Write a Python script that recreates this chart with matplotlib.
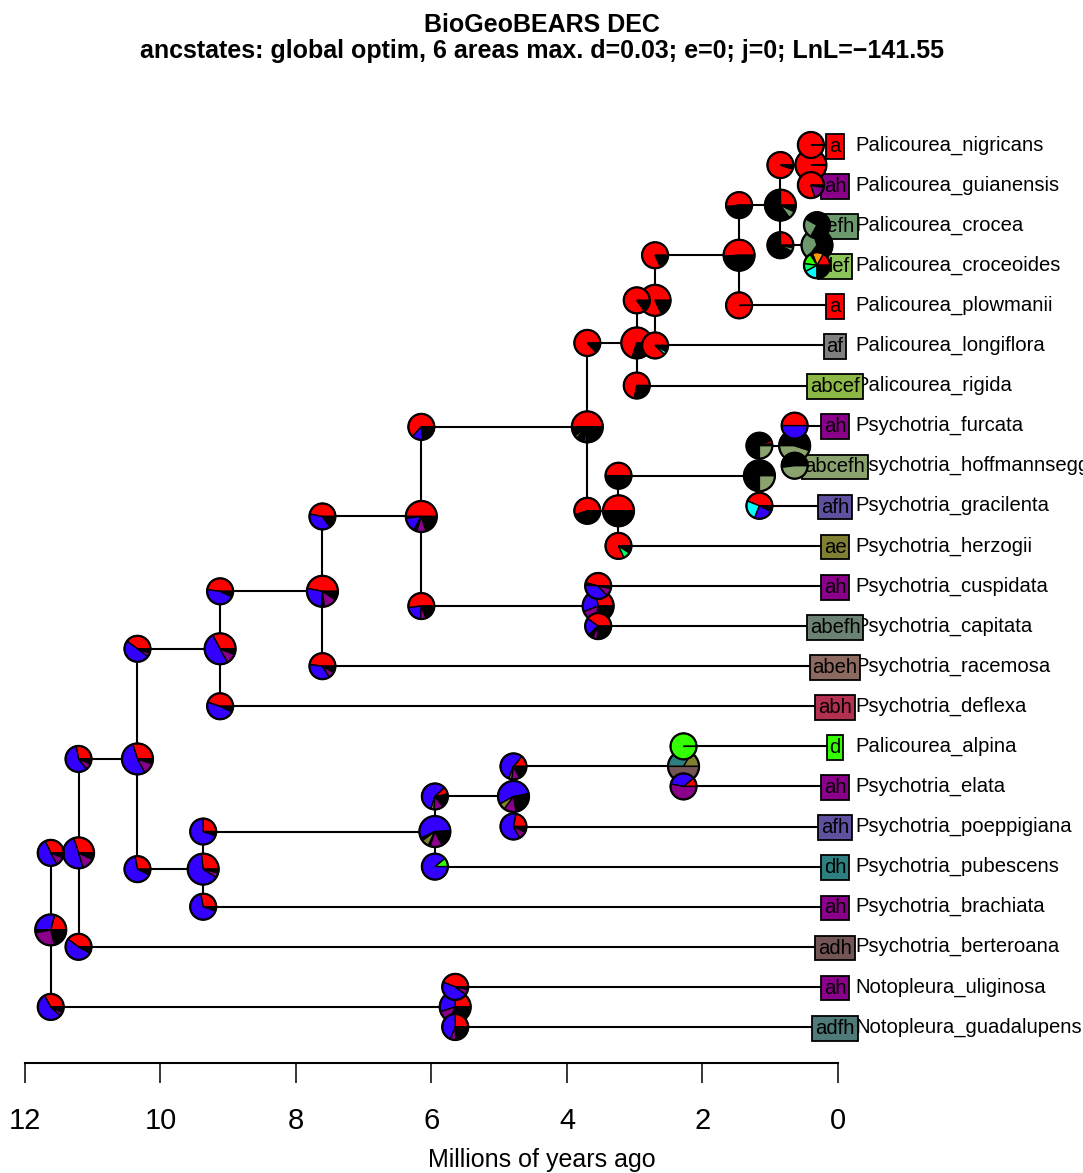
import matplotlib
matplotlib.use('Agg')
import matplotlib.pyplot as plt
from matplotlib.patches import Polygon, Circle
from matplotlib.transforms import Affine2D, ScaledTranslation
import numpy as np

plt.rcParams['font.family'] = 'Liberation Sans'

# tips, top to bottom
tip_names = ['Palicourea_nigricans', 'Palicourea_guianensis', 'Palicourea_crocea',
             'Palicourea_croceoides', 'Palicourea_plowmanii', 'Palicourea_longiflora',
             'Palicourea_rigida', 'Psychotria_furcata', 'Psychotria_hoffmannseggiana',
             'Psychotria_gracilenta', 'Psychotria_herzogii', 'Psychotria_cuspidata',
             'Psychotria_capitata', 'Psychotria_racemosa', 'Psychotria_deflexa',
             'Palicourea_alpina', 'Psychotria_elata', 'Psychotria_poeppigiana',
             'Psychotria_pubescens', 'Psychotria_brachiata', 'Psychotria_berteroana',
             'Notopleura_uliginosa', 'Notopleura_guadalupensis']
tip_ranges = ['a', 'ah', 'defh', 'def', 'a', 'af', 'abcef', 'ah', 'abcefh', 'afh', 'ae',
              'ah', 'abefh', 'abeh', 'abh', 'd', 'ah', 'afh', 'dh', 'ah', 'adh', 'ah', 'adfh']
tip_ids = ['t%d' % (i + 1) for i in range(len(tip_names))]

# internal nodes: id, age (Ma), children
node_ids = ['n1', 'n2', 'n3', 'n4', 'n5', 'n6', 'n7', 'n8', 'n9', 'n10', 'n11',
            'n12', 'n13', 'n14', 'n15', 'n16', 'n17', 'n18', 'n19', 'n20', 'n21', 'n22']
node_ages = [11.62, 11.21, 10.34, 9.12, 7.61, 6.15, 3.70, 2.97, 2.70, 1.46, 0.85,
             0.40, 0.31, 0.64, 3.24, 1.16, 3.54, 9.37, 5.95, 4.79, 2.28, 5.65]
node_children = [('n2', 'n22'), ('n3', 't21'), ('n4', 'n18'), ('n5', 't15'), ('n6', 't14'),
                 ('n7', 'n17'), ('n8', 'n15'), ('n9', 't7'), ('n10', 't6'), ('n11', 't5'),
                 ('n12', 'n13'), ('t1', 't2'), ('t3', 't4'), ('t8', 't9'), ('n16', 't11'),
                 ('n14', 't10'), ('t12', 't13'), ('n19', 't20'), ('n20', 't19'),
                 ('n21', 't18'), ('t16', 't17'), ('t22', 't23')]

# range probabilities (%) read counter-clockwise from 3 o'clock
node_pies = {
    'n1': [('a', 21), ('h', 29), ('other', 3), ('ah', 26), ('other', 21)],
    'n2': [('a', 30), ('h', 50), ('ah', 13), ('other', 7)],
    'n3': [('a', 30), ('h', 53), ('ah', 12), ('other', 5)],
    'n4': [('a', 33), ('h', 50), ('ah', 11), ('other', 6)],
    'n5': [('a', 47), ('h', 27), ('other', 3), ('ah', 14), ('other', 9)],
    'n6': [('a', 50), ('other', 2), ('h', 15), ('other', 3), ('ah', 10), ('other', 20)],
    'n7': [('a', 50), ('other', 10), ('ae', 3), ('other', 8), ('ah', 3), ('other', 26)],
    'n8': [('a', 70), ('other', 30)],
    'n9': [('a', 82), ('other', 18)],
    'n10': [('a', 51), ('other', 49)],
    'n11': [('a', 25), ('other', 60), ('defh', 8), ('other', 7)],
    'n12': [('a', 100)],
    'n13': [('other', 30), ('defh', 35), ('other', 35)],
    'n14': [('other', 50), ('abcefh', 45), ('other', 5)],
    'n15': [('a', 50), ('other', 50)],
    'n16': [('other', 3), ('a', 2), ('other', 70), ('abcefh', 25)],
    'n17': [('a', 28), ('h', 28), ('ah', 17), ('other', 27)],
    'n18': [('a', 27), ('h', 64), ('ah', 5), ('other', 4)],
    'n19': [('other', 1), ('h', 56), ('other', 3), ('ae', 8), ('other', 2), ('ah', 13), ('other', 17)],
    'n20': [('other', 3), ('h', 55), ('ae', 7), ('ah', 13), ('other', 22)],
    'n21': [('ae', 17), ('dh', 33), ('adh', 50)],
    'n22': [('a', 25), ('h', 30), ('ah', 14), ('other', 31)],
}
# corner pies, keyed by the descendant branch
corner_pies = {
    'n2': [('a', 32), ('h', 51), ('ah', 11), ('other', 6)],
    'n22': [('a', 33), ('h', 55), ('ah', 5), ('other', 7)],
    'n3': [('a', 28), ('h', 58), ('ah', 8), ('other', 6)],
    't21': [('a', 40), ('h', 52), ('other', 8)],
    'n4': [('a', 40), ('h', 50), ('ah', 5), ('other', 5)],
    'n18': [('a', 28), ('h', 65), ('other', 7)],
    'n5': [('a', 48), ('h', 45), ('other', 7)],
    't15': [('a', 45), ('h', 48), ('other', 7)],
    'n6': [('a', 47), ('h', 38), ('other', 15)],
    't14': [('a', 48), ('h', 36), ('ah', 8), ('other', 8)],
    'n7': [('a', 63), ('h', 14), ('other', 23)],
    'n17': [('a', 52), ('h', 22), ('ah', 7), ('other', 19)],
    'n8': [('a', 87), ('other', 13)],
    'n15': [('a', 55), ('other', 40), ('ah', 2), ('other', 3)],
    'n9': [('a', 85), ('f', 2), ('other', 13)],
    't7': [('a', 72), ('other', 28)],
    'n10': [('a', 82), ('other', 18)],
    't6': [('a', 88), ('f', 4), ('other', 8)],
    'n11': [('a', 52), ('other', 48)],
    't5': [('a', 100)],
    'n12': [('a', 95), ('h', 2), ('other', 3)],
    'n13': [('a', 25), ('other', 67), ('defh', 5), ('other', 3)],
    't1': [('a', 100)],
    't2': [('a', 80), ('ah', 17), ('other', 3)],
    't3': [('other', 42), ('defh', 25), ('other', 33)],
    't4': [('a', 17), ('c', 14), ('other', 3), ('d', 14), ('e', 10), ('f', 17), ('other', 25)],
    'n16': [('a', 50), ('other', 50)],
    't11': [('a', 82), ('e', 9), ('other', 9)],
    'n14': [('other', 3), ('a', 4), ('other', 68), ('abcefh', 25)],
    't10': [('a', 44), ('f', 25), ('h', 24), ('other', 7)],
    't8': [('a', 50), ('h', 50)],
    't9': [('other', 52), ('abcefh', 48)],
    't12': [('a', 46), ('other', 3), ('h', 38), ('ah', 10), ('other', 3)],
    't13': [('a', 40), ('h', 22), ('other', 6), ('ah', 6), ('other', 26)],
    'n19': [('a', 25), ('h', 70), ('other', 5)],
    't20': [('a', 28), ('h', 67), ('other', 5)],
    'n20': [('other', 3), ('a', 9), ('h', 58), ('ae', 4), ('ah', 12), ('other', 14)],
    't19': [('d', 11), ('h', 89)],
    'n21': [('a', 14), ('h', 55), ('ae', 4), ('ah', 10), ('other', 17)],
    't18': [('a', 22), ('h', 61), ('ah', 10), ('other', 7)],
    't16': [('d', 100)],
    't17': [('a', 11), ('h', 36), ('ah', 53)],
    't22': [('a', 44), ('h', 46), ('ah', 7), ('other', 3)],
    't23': [('a', 25), ('h', 44), ('ah', 7), ('other', 24)],
}

range_colors = {
    'a': '#FF0000', 'h': '#3300FF', 'ah': '#8B008B', 'other': '#000000',
    'c': '#FF9900', 'd': '#33FF00', 'e': '#00FF66', 'f': '#00FFFF',
    'ae': '#808033', 'af': '#808080', 'dh': '#2E8080', 'adh': '#735555',
    'afh': '#6050A0', 'def': '#8CC45A', 'defh': '#6C9A6C', 'abcef': '#8CB845',
    'abcefh': '#8AA26E', 'abefh': '#6B8272', 'abeh': '#8C6A60', 'abh': '#B43050',
    'adfh': '#4F7A78',
}

# ---- layout
fig = plt.figure(figsize=(10.83, 11.73), dpi=100)
ax = fig.add_axes([0, 110 / 1173, 1, 1063 / 1173])
px_per_ma = 67.75
px_per_tip = 40.09
ax.set_xlim(12 + 25 / px_per_ma, 12 - 1058 / px_per_ma)
ax.set_ylim(1 + (1063 - 145) / px_per_tip, 1 - 145 / px_per_tip)

# coordinates
xpos = {}
ypos = {}
for i, t in enumerate(tip_ids):
    xpos[t] = 0.0
    ypos[t] = i + 1
for nid, age in zip(node_ids, node_ages):
    xpos[nid] = age
children = dict(zip(node_ids, node_children))


def node_y(n):
    if n in ypos:
        return ypos[n]
    c1, c2 = children[n]
    ypos[n] = (node_y(c1) + node_y(c2)) / 2
    return ypos[n]


for nid in node_ids:
    node_y(nid)

# branches
lw_tree = 1.5
for nid in node_ids:
    c1, c2 = children[nid]
    ax.plot([xpos[nid], xpos[nid]], [ypos[c1], ypos[c2]], color='black', lw=lw_tree, zorder=1,
            solid_capstyle='butt')
    for c in (c1, c2):
        ax.plot([xpos[nid], xpos[c]], [ypos[c], ypos[c]], color='black', lw=lw_tree, zorder=1,
                solid_capstyle='butt')

# tip labels and range boxes
for t, name, rng in zip(tip_ids, tip_names, tip_ranges):
    ax.text(-0.25, ypos[t], name, fontsize=14.6, ha='left', va='center', zorder=2)
    ax.text(0.044, ypos[t] + 0.03, rng, fontsize=14.6, ha='center', va='center', zorder=3,
            bbox=dict(boxstyle='square,pad=0.14', fc=range_colors[rng], ec='black', lw=1.3))


def draw_pie(x, y, slices, r_px, z):
    trans = (Affine2D().scale(r_px / fig.dpi) + fig.dpi_scale_trans
             + ScaledTranslation(x, y, ax.transData))
    total = float(sum(v for _, v in slices))
    t0 = 0.0
    for key, v in slices:
        t1 = t0 + 2 * np.pi * v / total
        th = np.linspace(t0, t1, max(3, int(80 * v / total) + 2))
        pts = np.vstack([[0, 0], np.column_stack([np.cos(th), np.sin(th)]), [0, 0]])
        ax.add_patch(Polygon(pts, closed=True, fc=range_colors[key], ec='black', lw=1.0,
                             transform=trans, zorder=z))
        t0 = t1
    ax.add_patch(Circle((0, 0), 1, fc='none', ec='black', lw=1.6, transform=trans, zorder=z))


zo = 4
for nid in node_ids:
    draw_pie(xpos[nid], ypos[nid], node_pies[nid], 15.5, zo)
    zo += 0.01
for nid in node_ids:
    for c in children[nid]:
        draw_pie(xpos[nid], ypos[c], corner_pies[c], 13.0, zo)
        zo += 0.01

# axis
for s in ('top', 'right', 'left'):
    ax.spines[s].set_visible(False)
ax.spines['bottom'].set_bounds(0, 12)
ax.spines['bottom'].set_linewidth(1.5)
ax.set_xticks(np.arange(0, 13, 2))
ax.set_xticklabels([str(v) for v in range(0, 13, 2)])
ax.set_yticks([])
ax.tick_params(axis='x', direction='out', length=14.4, width=1.1, pad=17, labelsize=21)
ax.set_xlabel('Millions of years ago', fontsize=18, labelpad=10)

fig.text(0.5, 1 - 32 / 1173, 'BioGeoBEARS DEC', ha='center', va='baseline',
         fontsize=18, fontweight='bold')
fig.text(0.5, 1 - 58 / 1173,
         'ancstates: global optim, 6 areas max. d=0.03; e=0; j=0; LnL=\u2212141.55',
         ha='center', va='baseline', fontsize=18, fontweight='bold')

fig.savefig('out.png', dpi=100)
